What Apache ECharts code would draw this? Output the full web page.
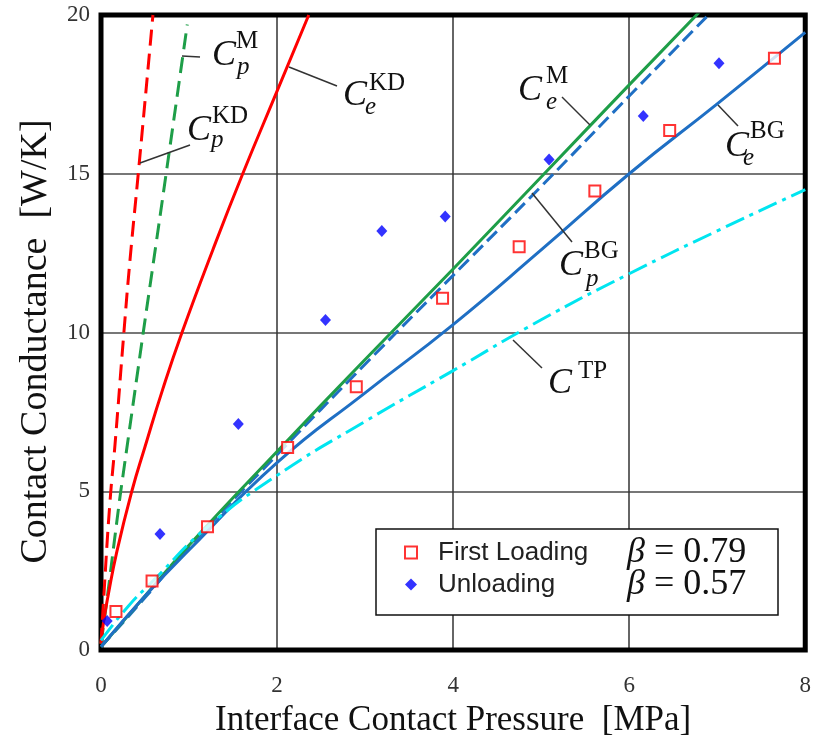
<!DOCTYPE html>
<html><head><meta charset="utf-8">
<script src="https://cdn.jsdelivr.net/npm/echarts@6/dist/echarts.min.js"></script>
<style>html,body{margin:0;padding:0;background:#fff}#c{width:814px;height:745px}</style>
</head><body><div id="c"></div>
<script>
// ---- axis ticks ----
const xTicks = [0, 2, 4, 6, 8];
const yTicks = [0, 5, 10, 15, 20];

// ---- model curves ----
const cpKD_x = [0, 0.03, 0.1, 0.16, 0.26, 0.33, 0.43, 0.59];
const cpKD_y = [0.2, 1.6, 4.6, 6.5, 10.0, 12.3, 15.2, 20.0];
const cpM_x = [0, 0.05, 0.21, 0.25, 0.48, 0.6, 0.75, 0.98];
const cpM_y = [0.2, 1.2, 4.7, 5.5, 10.0, 12.3, 15.2, 19.7];
const ceKD_x = [0, 0.03, 0.08, 0.18, 0.35, 0.5, 0.7, 0.92, 1.27, 1.61, 2.0, 2.36];
const ceKD_y = [0.2, 0.9, 1.7, 3.1, 5.0, 6.4, 8.2, 10.0, 12.6, 15.0, 17.6, 20.0];
const ceM_x = [0, 0.5, 1, 2, 3, 4, 5, 6, 6.8];
const ceM_y = [0.1, 1.7, 3.3, 6.25, 9.15, 12.0, 14.9, 17.8, 20.1];
const cpBG_x = [0, 0.5, 1, 2, 3, 4, 5, 6, 6.9];
const cpBG_y = [0.1, 1.65, 3.25, 6.15, 9.0, 11.8, 14.6, 17.45, 20.0];
const ceBG_x = [0, 0.5, 1, 2, 3, 4, 5, 6, 7, 8];
const ceBG_y = [0.1, 1.7, 3.15, 5.9, 8.1, 10.25, 12.6, 15.0, 17.2, 19.45];
const cTP_x = [0, 0.3, 0.6, 1.2, 2, 3, 4, 5, 6, 7, 8];
const cTP_y = [0.3, 1.35, 2.2, 3.85, 5.5, 7.2, 8.8, 10.4, 11.85, 13.2, 14.5];

// ---- measurements ----
const first_x = [0.17, 0.58, 1.21, 2.12, 2.90, 3.88, 4.75, 5.61, 6.46, 7.65];
const first_y = [1.21, 2.17, 3.88, 6.38, 8.29, 11.08, 12.70, 14.46, 16.36, 18.64];
const unload_x = [0.07, 0.67, 1.56, 2.55, 3.19, 3.91, 5.09, 6.16, 7.02];
const unload_y = [0.91, 3.65, 7.12, 10.39, 13.2, 13.65, 15.45, 16.82, 18.48];

const legendNames = ['First Loading', 'Unloading'];
const betaTexts = ['0.79', '0.57'];

const pairs = (xs, ys) => xs.map((x, i) => [x, ys[i]]);

const SERIF = '"Liberation Serif", "Times New Roman", serif';
const SANS = '"Liberation Sans", Arial, sans-serif';

function curve(name, xs, ys, color, type) {
  return {
    name: name, type: 'line', data: pairs(xs, ys),
    smooth: 0.5, showSymbol: false, symbol: 'none',
    lineStyle: { color: color, width: 3, type: type },
    z: 2, silent: true
  };
}

// ---- annotation layout (pixels) ----
const leaders = [[182,56,200,57],[140,163,190,145],[289,67,337,86],[562,97,590,125],[718,105,738,126],[532,193,572,242],[513,340,542,368]];
const labels = [
  // cLeft, cBase, sup, supLeft, supBase, sub, subLeft, subBase
  [212, 67, 'M', 236, 50, 'p', 237, 76],
  [187, 142, 'KD', 212, 125, 'p', 211, 149],
  [343, 107, 'KD', 369, 92, 'e', 365, 116],
  [518, 102, 'M', 546, 85, 'e', 546, 111],
  [725, 158, 'BG', 750, 140, 'e', 743, 167],
  [559, 277, 'BG', 584, 260, 'p', 586, 288],
  [548, 395, 'TP', 578, 380, null, 0, 0]
];

const graphics = [];
leaders.forEach(l => graphics.push({
  type: 'line', shape: { x1: l[0], y1: l[1], x2: l[2], y2: l[3] },
  style: { stroke: '#333', lineWidth: 1.5 }, z: 5, silent: true
}));
function txt(t, x, base, size, italic) {
  return {
    type: 'text', x: x, y: base - 0.33 * size, z: 6, silent: true,
    style: { text: t, fontFamily: 'Liberation Serif', fontSize: size, fontStyle: italic ? 'italic' : 'normal',
      fill: '#111', align: 'left', verticalAlign: 'middle' }
  };
}
labels.forEach(L => {
  graphics.push(txt('C', L[0], L[1], 36, true));
  graphics.push(txt(L[2], L[3], L[4], 25, false));
  if (L[5]) graphics.push(txt(L[5], L[6], L[7], 25, true));
});
// legend box
graphics.push({ type: 'rect', shape: { x: 376, y: 529, width: 402, height: 86 },
  style: { fill: '#fff', stroke: '#111', lineWidth: 1.5 }, z: 3, silent: true });
betaTexts.forEach((b, i) => graphics.push({
  type: 'text', x: 627, y: 553 + i * 32, z: 6, silent: true,
  style: { text: '{i|β} = ' + b, fontFamily: 'Liberation Serif', fontSize: 36, fill: '#111',
    align: 'left', verticalAlign: 'middle',
    rich: { i: { fontStyle: 'italic', fontFamily: 'Liberation Serif', fontSize: 36, fill: '#111' } } }
}));

const chart = echarts.init(document.getElementById('c'), null, { renderer: 'canvas' });
chart.setOption({
  animation: false,
  backgroundColor: '#fff',
  grid: { left: 101, right: 5.5, top: 15, bottom: 95, show: true, borderColor: '#000', borderWidth: 5, z: 1 },
  xAxis: {
    type: 'value', min: xTicks[0], max: xTicks[xTicks.length - 1], interval: 2,
    name: 'Interface Contact Pressure  [MPa]', nameLocation: 'middle', nameGap: 53,
    nameTextStyle: { fontFamily: SERIF, fontSize: 35, color: '#111' },
    axisLine: { show: false }, axisTick: { show: false },
    axisLabel: { fontFamily: SERIF, fontSize: 23, color: '#333', margin: 24 },
    splitLine: { show: true, lineStyle: { color: '#333', width: 1.5 } }
  },
  yAxis: {
    type: 'value', min: yTicks[0], max: yTicks[yTicks.length - 1], interval: 5,
    name: 'Contact Conductance  [W/K]', nameLocation: 'middle', nameGap: 46,
    nameTextStyle: { fontFamily: SERIF, fontSize: 38, color: '#111', padding: [0, 18, 0, 0] },
    axisLine: { show: false }, axisTick: { show: false },
    axisLabel: { fontFamily: SERIF, fontSize: 23, color: '#333', margin: 11 },
    splitLine: { show: true, lineStyle: { color: '#777', width: 2 } }
  },
  legend: {
    data: legendNames, orient: 'vertical', left: 404, top: 539, padding: 0,
    itemWidth: 12, itemHeight: 12, itemGap: 5,
    textStyle: { fontFamily: SANS, fontSize: 26, color: '#222', lineHeight: 27, padding: [0, 0, 0, 16] },
    z: 5, selectedMode: false
  },
  graphic: { elements: graphics },
  series: [
    curve('Cp KD', cpKD_x, cpKD_y, '#ff0000', [16, 8]),
    curve('Cp M', cpM_x, cpM_y, '#1e9e48', [16, 8]),
    curve('Ce KD', ceKD_x, ceKD_y, '#ff0000', 'solid'),
    curve('Cp BG', cpBG_x, cpBG_y, '#1f6fc4', [14, 6]),
    curve('Ce M', ceM_x, ceM_y, '#1e9e48', 'solid'),
    curve('Ce BG', ceBG_x, ceBG_y, '#1f6fc4', 'solid'),
    curve('C TP', cTP_x, cTP_y, '#00e5f0', [20, 6, 4, 6]),
    { name: legendNames[0], type: 'scatter', data: pairs(first_x, first_y), symbol: 'rect', symbolSize: 11,
      itemStyle: { color: '#fff', borderColor: '#ff0000', borderWidth: 2 }, z: 4 },
    { name: legendNames[1], type: 'scatter', data: pairs(unload_x, unload_y), symbol: 'diamond', symbolSize: [11, 12],
      itemStyle: { color: '#0000ff' }, z: 4 }
  ]
});
</script></body></html>
